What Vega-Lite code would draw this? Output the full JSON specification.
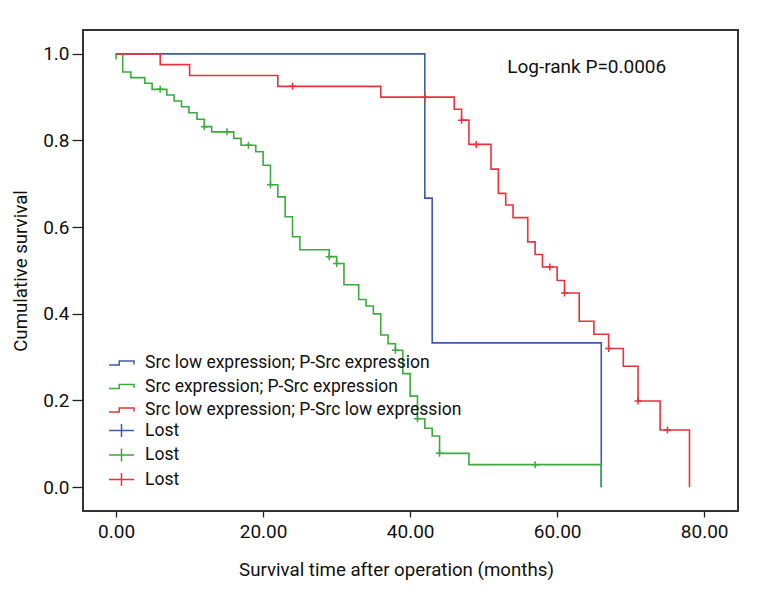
{
  "$schema": "https://vega.github.io/schema/vega-lite/v6.json",
  "width": 655,
  "height": 481,
  "autosize": {"type": "none"},
  "padding": {"left": 83, "top": 30, "right": 30, "bottom": 89},
  "background": "white",
  "config": {
    "font": "Roboto",
    "view": {"stroke": "#333333", "strokeWidth": 2},
    "axis": {"grid": false, "domain": false, "tickColor": "#222222", "tickWidth": 1.3, "labelColor": "#111111", "titleColor": "#111111", "labelFontSize": 19, "titleFontSize": 18.7, "titleFontWeight": "normal"}
  },
  "datasets": {
    "curves": [
      {"key": "Src low expression; P-Src expression", "i": 0, "t": 0, "s": 1.0},
      {"key": "Src low expression; P-Src expression", "i": 1, "t": 42, "s": 0.667},
      {"key": "Src low expression; P-Src expression", "i": 2, "t": 43, "s": 0.333},
      {"key": "Src low expression; P-Src expression", "i": 3, "t": 66, "s": 0.0},
      {"key": "Src expression; P-Src expression", "i": 0, "t": 0, "s": 0.987},
      {"key": "Src expression; P-Src expression", "i": 1, "t": 0, "s": 1.0},
      {"key": "Src expression; P-Src expression", "i": 2, "t": 0.9, "s": 0.958},
      {"key": "Src expression; P-Src expression", "i": 3, "t": 2.0, "s": 0.945},
      {"key": "Src expression; P-Src expression", "i": 4, "t": 3.9, "s": 0.932},
      {"key": "Src expression; P-Src expression", "i": 5, "t": 4.9, "s": 0.918},
      {"key": "Src expression; P-Src expression", "i": 6, "t": 6.9, "s": 0.905},
      {"key": "Src expression; P-Src expression", "i": 7, "t": 7.9, "s": 0.891},
      {"key": "Src expression; P-Src expression", "i": 8, "t": 8.9, "s": 0.878},
      {"key": "Src expression; P-Src expression", "i": 9, "t": 9.9, "s": 0.864},
      {"key": "Src expression; P-Src expression", "i": 10, "t": 11.0, "s": 0.849},
      {"key": "Src expression; P-Src expression", "i": 11, "t": 12.0, "s": 0.832},
      {"key": "Src expression; P-Src expression", "i": 12, "t": 13.0, "s": 0.82},
      {"key": "Src expression; P-Src expression", "i": 13, "t": 16.0, "s": 0.805},
      {"key": "Src expression; P-Src expression", "i": 14, "t": 17.0, "s": 0.789},
      {"key": "Src expression; P-Src expression", "i": 15, "t": 19.0, "s": 0.774},
      {"key": "Src expression; P-Src expression", "i": 16, "t": 20.0, "s": 0.743},
      {"key": "Src expression; P-Src expression", "i": 17, "t": 21.0, "s": 0.698},
      {"key": "Src expression; P-Src expression", "i": 18, "t": 22.0, "s": 0.67},
      {"key": "Src expression; P-Src expression", "i": 19, "t": 23.0, "s": 0.624},
      {"key": "Src expression; P-Src expression", "i": 20, "t": 24.0, "s": 0.578},
      {"key": "Src expression; P-Src expression", "i": 21, "t": 25.0, "s": 0.548},
      {"key": "Src expression; P-Src expression", "i": 22, "t": 29.0, "s": 0.532},
      {"key": "Src expression; P-Src expression", "i": 23, "t": 30.0, "s": 0.516},
      {"key": "Src expression; P-Src expression", "i": 24, "t": 31.0, "s": 0.467},
      {"key": "Src expression; P-Src expression", "i": 25, "t": 33.0, "s": 0.433},
      {"key": "Src expression; P-Src expression", "i": 26, "t": 34.0, "s": 0.418},
      {"key": "Src expression; P-Src expression", "i": 27, "t": 35.0, "s": 0.4},
      {"key": "Src expression; P-Src expression", "i": 28, "t": 36.0, "s": 0.351},
      {"key": "Src expression; P-Src expression", "i": 29, "t": 37.0, "s": 0.331},
      {"key": "Src expression; P-Src expression", "i": 30, "t": 38.0, "s": 0.316},
      {"key": "Src expression; P-Src expression", "i": 31, "t": 39.0, "s": 0.262},
      {"key": "Src expression; P-Src expression", "i": 32, "t": 40.0, "s": 0.21},
      {"key": "Src expression; P-Src expression", "i": 33, "t": 41.0, "s": 0.158},
      {"key": "Src expression; P-Src expression", "i": 34, "t": 42.0, "s": 0.136},
      {"key": "Src expression; P-Src expression", "i": 35, "t": 43.0, "s": 0.118},
      {"key": "Src expression; P-Src expression", "i": 36, "t": 44.0, "s": 0.078},
      {"key": "Src expression; P-Src expression", "i": 37, "t": 48.0, "s": 0.052},
      {"key": "Src expression; P-Src expression", "i": 38, "t": 66.0, "s": 0.0},
      {"key": "Src low expression; P-Src low expression", "i": 0, "t": 0, "s": 1.0},
      {"key": "Src low expression; P-Src low expression", "i": 1, "t": 6, "s": 0.975},
      {"key": "Src low expression; P-Src low expression", "i": 2, "t": 10, "s": 0.95},
      {"key": "Src low expression; P-Src low expression", "i": 3, "t": 22, "s": 0.925},
      {"key": "Src low expression; P-Src low expression", "i": 4, "t": 36, "s": 0.9},
      {"key": "Src low expression; P-Src low expression", "i": 5, "t": 46, "s": 0.872},
      {"key": "Src low expression; P-Src low expression", "i": 6, "t": 47, "s": 0.847},
      {"key": "Src low expression; P-Src low expression", "i": 7, "t": 48, "s": 0.791},
      {"key": "Src low expression; P-Src low expression", "i": 8, "t": 51, "s": 0.734},
      {"key": "Src low expression; P-Src low expression", "i": 9, "t": 52, "s": 0.678},
      {"key": "Src low expression; P-Src low expression", "i": 10, "t": 53, "s": 0.651},
      {"key": "Src low expression; P-Src low expression", "i": 11, "t": 54, "s": 0.622},
      {"key": "Src low expression; P-Src low expression", "i": 12, "t": 56, "s": 0.566},
      {"key": "Src low expression; P-Src low expression", "i": 13, "t": 57, "s": 0.537},
      {"key": "Src low expression; P-Src low expression", "i": 14, "t": 58, "s": 0.508},
      {"key": "Src low expression; P-Src low expression", "i": 15, "t": 60, "s": 0.477},
      {"key": "Src low expression; P-Src low expression", "i": 16, "t": 61, "s": 0.448},
      {"key": "Src low expression; P-Src low expression", "i": 17, "t": 63, "s": 0.383},
      {"key": "Src low expression; P-Src low expression", "i": 18, "t": 65, "s": 0.353},
      {"key": "Src low expression; P-Src low expression", "i": 19, "t": 67, "s": 0.32},
      {"key": "Src low expression; P-Src low expression", "i": 20, "t": 69, "s": 0.279},
      {"key": "Src low expression; P-Src low expression", "i": 21, "t": 71, "s": 0.199},
      {"key": "Src low expression; P-Src low expression", "i": 22, "t": 74, "s": 0.132},
      {"key": "Src low expression; P-Src low expression", "i": 23, "t": 78, "s": 0.0}
    ],
    "censors": [
      {"key": "Lost2", "t": 6.0, "s": 0.918},
      {"key": "Lost2", "t": 12.0, "s": 0.832},
      {"key": "Lost2", "t": 15.1, "s": 0.82},
      {"key": "Lost2", "t": 18.0, "s": 0.789},
      {"key": "Lost2", "t": 21.0, "s": 0.698},
      {"key": "Lost2", "t": 29.0, "s": 0.532},
      {"key": "Lost2", "t": 30.0, "s": 0.516},
      {"key": "Lost2", "t": 38.0, "s": 0.316},
      {"key": "Lost2", "t": 41.0, "s": 0.158},
      {"key": "Lost2", "t": 44.0, "s": 0.078},
      {"key": "Lost2", "t": 57.0, "s": 0.052},
      {"key": "Lost3", "t": 24.0, "s": 0.925},
      {"key": "Lost3", "t": 42.0, "s": 0.9},
      {"key": "Lost3", "t": 47.0, "s": 0.847},
      {"key": "Lost3", "t": 49.0, "s": 0.791},
      {"key": "Lost3", "t": 59.0, "s": 0.508},
      {"key": "Lost3", "t": 61.0, "s": 0.448},
      {"key": "Lost3", "t": 67.0, "s": 0.32},
      {"key": "Lost3", "t": 71.0, "s": 0.199},
      {"key": "Lost3", "t": 75.0, "s": 0.132}
    ],
    "notes": [
      {"t": 53.2, "s": 0.97, "label": "Log-rank P=0.0006"}
    ]
  },
  "layer": [
    {
      "data": {"name": "curves"},
      "mark": {"type": "line", "interpolate": "step-after", "strokeWidth": 1.6},
      "encoding": {
        "x": {"field": "t", "type": "quantitative",
              "scale": {"domain": [-4.5, 84.6], "nice": false, "zero": false},
              "axis": {"values": [0, 20, 40, 60, 80], "format": ".2f", "title": "Survival time after operation (months)", "tickSize": 6, "labelPadding": 5, "titleX": 313, "titleY": 64, "titleBaseline": "alphabetic"}},
        "y": {"field": "s", "type": "quantitative",
              "scale": {"domain": [-0.055, 1.055], "nice": false, "zero": false},
              "axis": {"values": [0, 0.2, 0.4, 0.6, 0.8, 1.0], "format": ".1f", "title": "Cumulative survival", "tickSize": 11, "labelPadding": 3, "titlePadding": 12}},
        "color": {"field": "key", "type": "nominal",
                  "scale": {"domain": ["Src low expression; P-Src expression", "Src expression; P-Src expression", "Src low expression; P-Src low expression", "Lost1", "Lost2", "Lost3"],
                            "range": ["#3d5ba9", "#3aab3c", "#e8323c", "#3d5ba9", "#3aab3c", "#e8323c"]},
                  "legend": {"title": null, "orient": "none", "legendX": 28.5, "legendY": 323,
                             "values": ["Src low expression; P-Src expression", "Src expression; P-Src expression", "Src low expression; P-Src low expression"],
                             "symbolType": "M-1.39,0.22H-0.25V-0.22H1.39V0.18", "symbolSize": 324, "symbolStrokeWidth": 1.5,
                             "labelFontSize": 17.5, "labelColor": "#111111", "labelOffset": 13.5, "rowPadding": 4.5, "labelLimit": 600}},
        "order": {"field": "i", "type": "quantitative"}
      }
    },
    {
      "data": {"name": "censors"},
      "mark": {"type": "point", "shape": "M-1,0H1M0,-1V1", "size": 49, "filled": false, "strokeWidth": 1.5, "opacity": 1},
      "encoding": {
        "x": {"field": "t", "type": "quantitative"},
        "y": {"field": "s", "type": "quantitative"},
        "color": {"field": "key", "type": "nominal",
                  "legend": {"title": null, "orient": "none", "legendX": 28.5, "legendY": 390.5,
                             "values": ["Lost1", "Lost2", "Lost3"],
                             "symbolType": "M-1.39,0H1.39M0,-0.72V0.72", "symbolSize": 324, "symbolStrokeWidth": 1.5,
                             "labelFontSize": 17.5, "labelColor": "#111111", "labelOffset": 13.5, "rowPadding": 4.5, "labelLimit": 600,
                             "labelExpr": "'Lost'"}}
      }
    },
    {
      "data": {"name": "notes"},
      "mark": {"type": "text", "align": "left", "baseline": "middle", "fontSize": 19, "color": "#111111"},
      "encoding": {
        "x": {"field": "t", "type": "quantitative"},
        "y": {"field": "s", "type": "quantitative"},
        "text": {"field": "label"}
      }
    }
  ],
  "resolve": {"legend": {"color": "independent"}}
}
